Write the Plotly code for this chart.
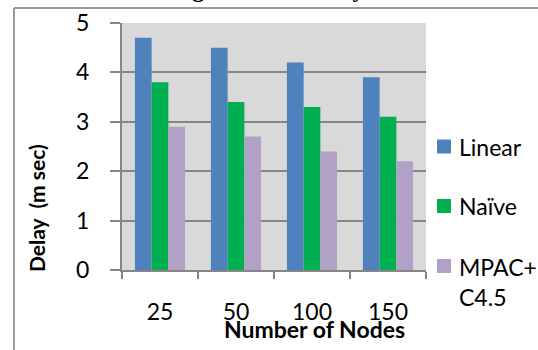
import plotly.graph_objects as go

# Delay per node count for each classifier
nodes = ["25", "50", "100", "150"]
linear = [4.7, 4.5, 4.2, 3.9]
naive = [3.8, 3.4, 3.3, 3.1]
mpac = [2.9, 2.7, 2.4, 2.2]

series_names = ["Linear", "Naïve", "MPAC+<br>C4.5"]
series_colors = ["#4F81BD", "#00B050", "#B2A1C7"]
y_ticks = [0, 1, 2, 3, 4, 5]

W, H = 538, 350
L, R, T, B = 122, 112, 23, 80
pw, ph = W - L - R, H - T - B


def px_x(x):
    return (x - L) / pw


def px_y(y):
    return (H - B - y) / ph


fig = go.Figure()
for name, vals, col in zip(series_names, [linear, naive, mpac], series_colors):
    fig.add_trace(go.Bar(x=nodes, y=vals, name=name, marker_color=col,
                         marker_line_width=0, showlegend=False))

font_main = "Lato, 'Open Sans', sans-serif"

# Legend drawn as swatches + labels to the right of the plot
legend_rows = [146.5, 206, 266]
shapes = [
    dict(type="line", xref="paper", yref="paper",
         x0=px_x(14), x1=px_x(14), y0=px_y(8), y1=px_y(352),
         line=dict(color="#9a9a9a", width=2)),
    dict(type="line", xref="paper", yref="paper",
         x0=px_x(14), x1=px_x(540), y0=px_y(8), y1=px_y(8),
         line=dict(color="#9a9a9a", width=2)),
]
annotations = [
    dict(text="<b>Figure 2  Accuracy</b>", xref="paper", yref="paper",
         x=px_x(268), y=px_y(4), xanchor="center", yanchor="bottom",
         showarrow=False,
         font=dict(family="'Liberation Serif', serif", size=24, color="black")),
    dict(text="<b>Number of Nodes</b>", xref="paper", yref="paper",
         x=px_x(314), y=px_y(329), xanchor="center", yanchor="middle",
         showarrow=False, font=dict(family=font_main, size=23, color="black")),
    dict(text="<b>Delay  (m sec)</b>", xref="paper", yref="paper",
         x=px_x(36), y=px_y(208), xanchor="center", yanchor="middle",
         textangle=-90, showarrow=False,
         font=dict(family=font_main, size=21, color="black")),
]
for name, col, yc in zip(series_names, series_colors, legend_rows):
    shapes.append(dict(type="rect", xref="paper", yref="paper",
                       x0=px_x(437), x1=px_x(451), y0=px_y(yc - 7), y1=px_y(yc + 7),
                       fillcolor=col, line=dict(width=0)))
    lines = name.count("<br>") + 1
    annotations.append(dict(text=name, xref="paper", yref="paper",
                            x=px_x(457), y=px_y(yc + 16 * (lines - 1)),
                            xanchor="left", yanchor="middle", align="left",
                            showarrow=False,
                            font=dict(family=font_main, size=23, color="black")))

fig.update_layout(
    width=W, height=H,
    margin=dict(l=L, r=R, t=T, b=B, pad=0, autoexpand=False),
    paper_bgcolor="white",
    plot_bgcolor="#D9D9D9",
    barmode="group",
    bargap=0.34,
    bargroupgap=0,
    showlegend=False,
    font=dict(family=font_main, size=23, color="black"),
    xaxis=dict(
        type="category", tickson="boundaries",
        ticks="outside", ticklen=7, tickcolor="#868686", tickwidth=2,
        showline=True, linecolor="#868686", linewidth=2,
        showgrid=False, ticklabelstandoff=20,
        tickfont=dict(size=23),
    ),
    yaxis=dict(
        range=[0, 5], tickvals=y_ticks,
        ticks="outside", ticklen=10, tickcolor="#868686", tickwidth=2,
        showline=True, linecolor="#868686", linewidth=2,
        showgrid=True, gridcolor="#868686", gridwidth=2,
        zeroline=False, ticklabelstandoff=16,
        tickfont=dict(size=23),
    ),
    shapes=shapes,
    annotations=annotations,
)

fig.write_html("out.html")
